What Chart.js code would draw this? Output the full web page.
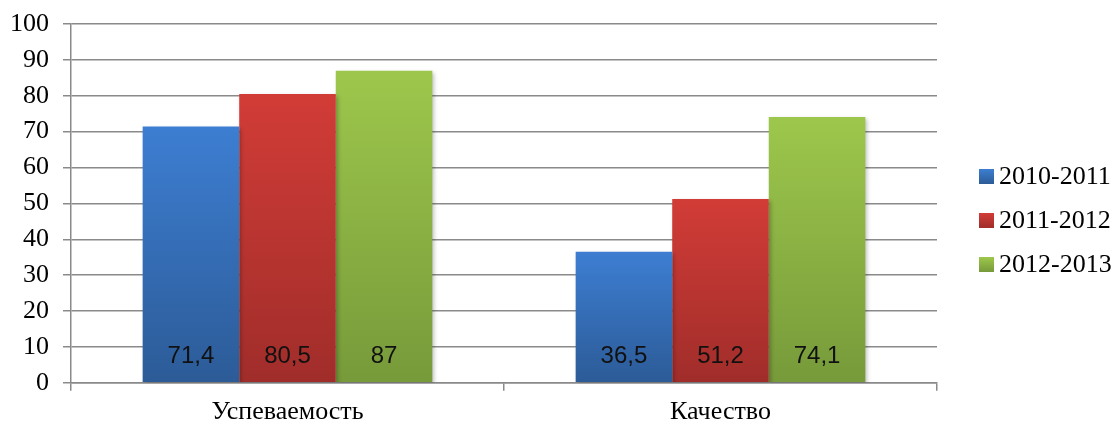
<!DOCTYPE html>
<html>
<head>
<meta charset="utf-8">
<script src="https://cdn.jsdelivr.net/npm/chart.js@4/dist/chart.umd.min.js"></script>
<style>
    body { margin: 0; background: #fff; }
    #wrap { position: relative; width: 1118px; height: 426px; }
    #legend { position: absolute; left: 979px; top: 154px; font: 26px 'Liberation Serif', 'Times New Roman', serif; color: #000; }
    #legend .item { display: flex; align-items: center; height: 44px; }
    #legend .box { width: 15px; height: 15px; margin-right: 5px; }
</style>
</head>
<body>
<div id="wrap">
    <canvas id="chart" width="1118" height="426"></canvas>
    <div id="legend"></div>
</div>
<script>
// Данные диаграммы
const categories = ['Успеваемость', 'Качество'];
const seriesNames = ['2010-2011', '2011-2012', '2012-2013'];
const values2010 = [71.4, 36.5];
const values2011 = [80.5, 51.2];
const values2012 = [87, 74.1];
const yTicks = [0, 10, 20, 30, 40, 50, 60, 70, 80, 90, 100];

// цвета: верх / низ градиента
const colors = [
    ['#3d7ed2', '#2c5b97'],
    ['#d23c37', '#a02d2a'],
    ['#9dc74c', '#779a3a'],
];

const serif = "'Liberation Serif', 'Times New Roman', serif";
const gridColor = '#8a8a8a';

function gradient(top, bottom) {
    return (c) => {
        const chart = c.chart;
        if (!chart.chartArea || c.type !== 'data') return top;
        const y = chart.scales.y;
        const g = chart.ctx.createLinearGradient(0, y.getPixelForValue(c.raw), 0, y.getPixelForValue(0));
        g.addColorStop(0, top);
        g.addColorStop(1, bottom);
        return g;
    };
}

// тень под столбиками
const shadowPlugin = {
    id: 'barShadow',
    beforeDatasetsDraw(chart) {
        const ctx = chart.ctx;
        ctx.save();
        ctx.shadowColor = 'rgba(0,0,0,0.25)';
        ctx.shadowBlur = 4;
        ctx.shadowOffsetX = 2;
        ctx.shadowOffsetY = 2;
    },
    afterDatasetsDraw(chart) {
        chart.ctx.restore();
    }
};

// подписи значений внизу столбиков
const labelPlugin = {
    id: 'barLabels',
    afterDatasetsDraw(chart) {
        const ctx = chart.ctx;
        const base = chart.scales.y.getPixelForValue(0);
        ctx.save();
        ctx.font = "24px 'Liberation Sans', Arial, sans-serif";
        ctx.fillStyle = '#111';
        ctx.textAlign = 'center';
        ctx.textBaseline = 'middle';
        chart.data.datasets.forEach((ds, i) => {
            chart.getDatasetMeta(i).data.forEach((bar, j) => {
                ctx.fillText(String(ds.data[j]).replace('.', ','), bar.x, base - 26);
            });
        });
        ctx.restore();
    }
};

const allValues = [values2010, values2011, values2012];

new Chart(document.getElementById('chart'), {
    type: 'bar',
    data: {
        labels: categories,
        datasets: seriesNames.map((name, i) => ({
            label: name,
            data: allValues[i],
            backgroundColor: gradient(colors[i][0], colors[i][1]),
            borderWidth: 0,
            categoryPercentage: 0.669,
            barPercentage: 1,
        }))
    },
    options: {
        responsive: false,
        animation: false,
        layout: { padding: { left: -4, top: 24, right: 181, bottom: -8 } },
        plugins: {
            legend: { display: false },
            tooltip: { enabled: false },
        },
        scales: {
            x: {
                grid: {
                    offset: true,
                    drawOnChartArea: false,
                    drawTicks: true,
                    tickLength: 8,
                    color: gridColor,
                    lineWidth: 1.5,
                },
                border: { display: true, color: gridColor, width: 1.5 },
                ticks: {
                    color: '#000',
                    font: { family: serif, size: 26 },
                    padding: 6,
                }
            },
            y: {
                min: 0,
                max: 100,
                afterBuildTicks: (axis) => { axis.ticks = yTicks.map(v => ({ value: v })); },
                grid: {
                    color: gridColor,
                    lineWidth: 1.5,
                    tickLength: 8,
                },
                border: { display: true, color: gridColor, width: 1.5 },
                ticks: {
                    color: '#000',
                    font: { family: serif, size: 26, lineHeight: 0.5 },
                    padding: 14,
                }
            }
        }
    },
    plugins: [shadowPlugin, labelPlugin]
});

// легенда
const legend = document.getElementById('legend');
seriesNames.forEach((name, i) => {
    const item = document.createElement('div');
    item.className = 'item';
    const box = document.createElement('span');
    box.className = 'box';
    box.style.background = `linear-gradient(${colors[i][0]}, ${colors[i][1]})`;
    const text = document.createElement('span');
    text.textContent = name;
    item.appendChild(box);
    item.appendChild(text);
    legend.appendChild(item);
});
</script>
</body>
</html>
